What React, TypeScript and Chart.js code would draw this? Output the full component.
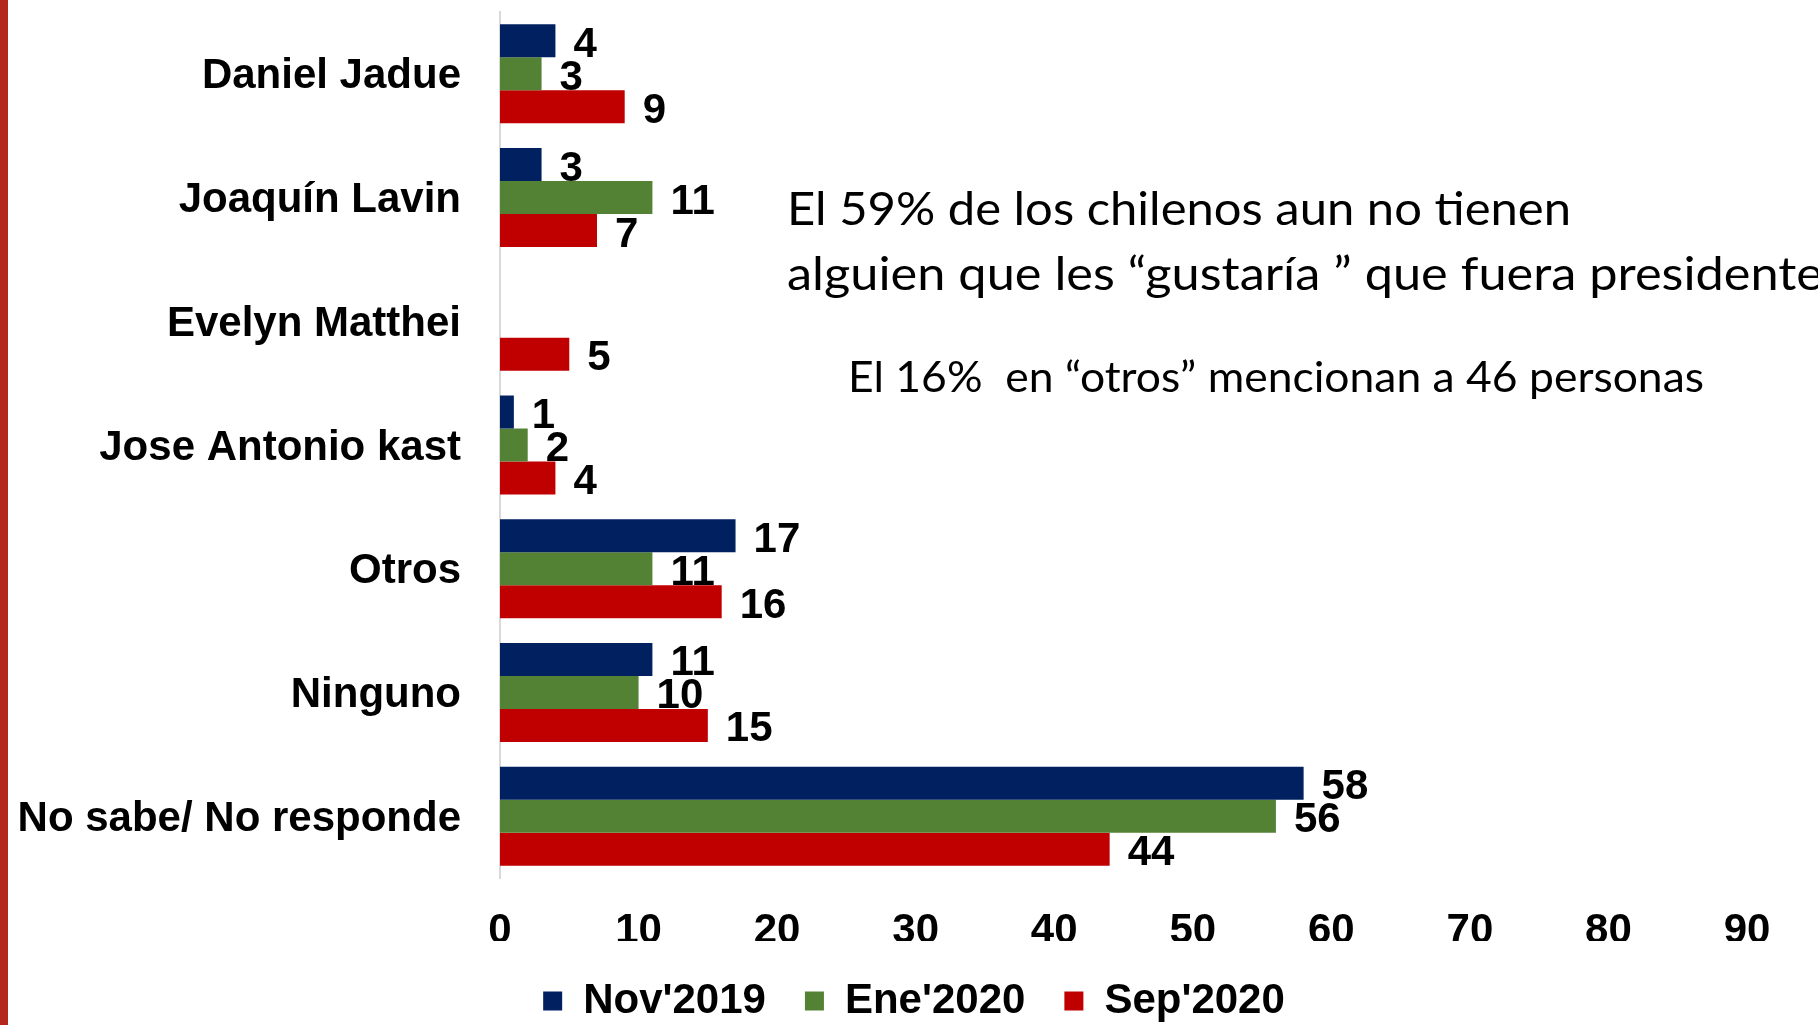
import React, { useEffect, useRef } from 'react';
import { Chart, registerables } from 'chart.js';

Chart.register(...registerables);

// ---- data ----
const categories = [
  'Daniel Jadue',
  'Joaquín Lavin',
  'Evelyn Matthei',
  'Jose Antonio kast',
  'Otros',
  'Ninguno',
  'No sabe/ No responde',
];
const seriesNames = ["Nov'2019", "Ene'2020", "Sep'2020"];
const nov2019 = [4, 3, null, 1, 17, 11, 58];
const ene2020 = [3, 11, null, 2, 11, 10, 56];
const sep2020 = [9, 7, 5, 4, 16, 15, 44];
const xMin = 0;
const xMax = 90;
const xStep = 10;

const noteMain = [
  'El 59% de los chilenos aun no tienen',
  'alguien que les “gustaría ” que fuera presidente',
];
const noteSub = 'El 16%  en “otros” mencionan a 46 personas';

const seriesColors = ['#002060', '#548235', '#C00000'];
const boldFont = { family: '"Liberation Sans", Arial, sans-serif', weight: 'bold' as const, size: 42 };

const valueLabels = {
  id: 'valueLabels',
  afterDatasetsDraw(chart: any) {
    const ctx = chart.ctx;
    ctx.save();
    ctx.fillStyle = '#000';
    ctx.font = 'bold 42px "Liberation Sans", Arial, sans-serif';
    ctx.textAlign = 'left';
    ctx.textBaseline = 'alphabetic';
    chart.data.datasets.forEach((ds: any, di: number) => {
      const meta = chart.getDatasetMeta(di);
      meta.data.forEach((bar: any, i: number) => {
        const v = ds.data[i];
        if (v === null || v === undefined) return;
        ctx.fillText(String(v), bar.x + 18, bar.y + 16);
      });
    });
    ctx.restore();
  },
};

const fitText = (ctx: any, text: string, x: number, y: number, width: number) => {
  const k = width / ctx.measureText(text).width;
  ctx.save();
  ctx.translate(x, y);
  ctx.scale(k, 1);
  ctx.fillText(text, 0, 0);
  ctx.restore();
};

const notes = {
  id: 'notes',
  afterDraw(chart: any) {
    const ctx = chart.ctx;
    ctx.save();
    ctx.fillStyle = '#000';
    ctx.textAlign = 'left';
    ctx.textBaseline = 'alphabetic';
    ctx.font = '47px Lato, "Open Sans", sans-serif';
    fitText(ctx, noteMain[0], 787, 225, 784);
    fitText(ctx, noteMain[1], 787, 290, 1036);
    ctx.font = '43px Lato, "Open Sans", sans-serif';
    fitText(ctx, noteSub, 848, 392, 856);
    ctx.restore();
  },
};

const legendShift = {
  id: 'legendShift',
  afterLayout(chart: any) {
    const lg = chart.legend;
    if (!lg) return;
    const d = 914 - (lg.left + lg.right) / 2;
    lg.left += d;
    lg.right += d;
  },
};

export default function App() {
  const ref = useRef<HTMLCanvasElement | null>(null);

  useEffect(() => {
    if (!ref.current) return;
    const series = [nov2019, ene2020, sep2020];
    const chart = new Chart(ref.current, {
      type: 'bar',
      data: {
        // leading empty line nudges each label a few pixels down to sit centred on its group
        labels: categories.map((c) => ['', c]) as any,
        datasets: series.map((d, i) => ({
          label: seriesNames[i],
          data: d as any,
          backgroundColor: seriesColors[i],
          borderWidth: 0,
          categoryPercentage: 0.8,
          barPercentage: 1.0,
        })),
      },
      options: {
        indexAxis: 'y',
        responsive: false,
        maintainAspectRatio: false,
        animation: false,
        layout: { padding: { left: 10, right: 71, top: 12, bottom: 0 } },
        scales: {
          x: {
            min: xMin,
            max: xMax,
            ticks: { stepSize: xStep, color: '#000', font: boldFont, padding: 28 },
            grid: { display: false, drawTicks: false },
            border: { display: false },
            afterFit: (s: any) => {
              s.height = 63;
            },
          },
          y: {
            ticks: { color: '#000', font: { ...boldFont, lineHeight: '6px' }, padding: 39 },
            grid: { display: false, drawTicks: false },
            border: { display: true, color: '#D9D9D9', width: 2 },
            afterFit: (s: any) => {
              s.width = 490;
              s.paddingTop = 0;
              s.paddingBottom = 0;
            },
          },
        },
        plugins: {
          legend: {
            position: 'bottom',
            labels: {
              color: '#000',
              font: boldFont,
              boxWidth: 19,
              boxHeight: 19,
              padding: 39,
            },
          },
          tooltip: { enabled: false },
        },
      },
      plugins: [valueLabels, notes, legendShift],
    });
    return () => chart.destroy();
  }, []);

  return (
    <div
      style={{
        position: 'fixed',
        left: 0,
        top: 0,
        width: 1818,
        height: 1025,
        overflow: 'hidden',
        background: '#fff',
      }}
    >
      <div
        style={{ position: 'absolute', left: 0, top: 0, width: 8, height: '100%', background: '#B3271E' }}
      />
      <canvas ref={ref} width={1818} height={1032} style={{ position: 'absolute', left: 0, top: 0 }} />
    </div>
  );
}
